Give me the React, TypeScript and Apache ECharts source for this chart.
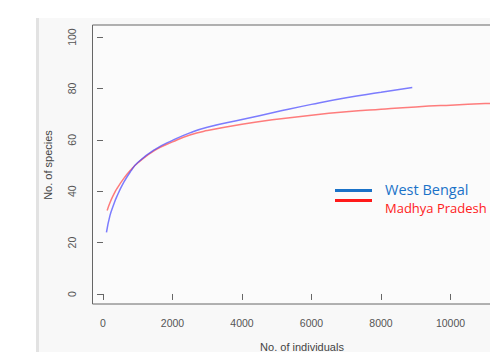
import React, { useEffect, useRef } from "react";
import * as echarts from "echarts";

const xTicks = [0, 2000, 4000, 6000, 8000, 10000];
const yTicks = [0, 20, 40, 60, 80, 100];

const westBengalX = [100, 200, 300, 400, 600, 800, 1000, 1500, 2000, 2500, 3000, 4000, 5000, 6000, 7000, 8000, 8900];
const westBengalY = [24, 30.5, 34.5, 38, 43.5, 47.8, 51.2, 56.3, 59.8, 62.7, 64.9, 67.9, 70.9, 73.8, 76.4, 78.5, 80.4];

const madhyaX = [120, 200, 300, 400, 600, 800, 1000, 1500, 2000, 2500, 3000, 4000, 5000, 6000, 7000, 8000, 9000, 10000, 11000, 12000];
const madhyaY = [32.5, 35.5, 38.5, 41, 45, 48.3, 51, 56, 59.2, 61.9, 63.6, 66.1, 68, 69.6, 70.9, 71.9, 72.8, 73.5, 74.1, 74.7];

const seriesNames = ["West Bengal", "Madhya Pradesh"];
const xName = "No. of individuals";
const yName = "No. of species";

export default function App() {
  const ref = useRef<HTMLDivElement>(null);
  useEffect(() => {
    if (!ref.current) return;
    const chart = echarts.init(ref.current, null, { renderer: "svg" });
    const pair = (xs: number[], ys: number[]) => xs.map((x, i) => [x, ys[i]]);
    chart.setOption({
      animation: false,
      backgroundColor: "#ffffff",
      grid: {
        show: true,
        left: 92.5,
        top: 25,
        width: 427.5,
        height: 279,
        borderColor: "#666",
        borderWidth: 1,
        backgroundColor: "#fbfbfb",
        containLabel: false,
        outerBoundsMode: "none",
      },
      xAxis: {
        type: "value",
        min: -302,
        max: 12000,
        splitLine: { show: false },
        axisLine: { show: false },
        axisTick: { show: true, inside: false, length: 6, customValues: xTicks, lineStyle: { color: "#666" } },
        axisLabel: {
          customValues: xTicks,
          formatter: (v: number) => String(v),
          margin: 13,
          fontFamily: "Liberation Sans, Arial, sans-serif",
          fontSize: 10.5,
          color: "#555",
        },
      },
      yAxis: {
        type: "value",
        min: -3.9,
        max: 104.7,
        splitLine: { show: false },
        axisLine: { show: false },
        axisTick: { show: true, inside: false, length: 6, customValues: yTicks, lineStyle: { color: "#666" } },
        axisLabel: {
          customValues: yTicks,
          formatter: (v: number) => String(v),
          rotate: 90,
          margin: 15,
          fontFamily: "Liberation Sans, Arial, sans-serif",
          fontSize: 10.5,
          color: "#555",
        },
      },
      series: [
        {
          name: seriesNames[0],
          type: "line",
          data: pair(westBengalX, westBengalY),
          smooth: true,
          showSymbol: false,
          lineStyle: { color: "rgba(70,70,255,0.7)", width: 1.5 },
          z: 3,
        },
        {
          name: seriesNames[1],
          type: "line",
          data: pair(madhyaX, madhyaY),
          smooth: true,
          showSymbol: false,
          lineStyle: { color: "rgba(255,70,70,0.7)", width: 1.5 },
          z: 2,
        },
      ],
      graphic: [
        {
          type: "rect",
          z: -10,
          silent: true,
          shape: { x: 37, y: 18, width: 470, height: 340 },
          style: { fill: "#f8f8f8" },
        },
        {
          type: "rect",
          z: -9,
          silent: true,
          shape: { x: 36, y: 18, width: 3, height: 340 },
          style: { fill: "#e2e2e2" },
        },
        {
          type: "text",
          x: 47.5,
          y: 165,
          rotation: Math.PI / 2,
          style: {
            text: yName,
            fontFamily: "Liberation Sans, Arial, sans-serif",
            fontSize: 11,
            fill: "#444",
            align: "center",
            verticalAlign: "middle",
          },
        },
        {
          type: "text",
          x: 302,
          y: 347,
          style: {
            text: xName,
            fontFamily: "Liberation Sans, Arial, sans-serif",
            fontSize: 11,
            fill: "#444",
            align: "center",
            verticalAlign: "middle",
          },
        },
        {
          type: "line",
          shape: { x1: 335, y1: 190.5, x2: 372, y2: 190.5 },
          style: { stroke: "#1a72c8", lineWidth: 3 },
        },
        {
          type: "line",
          shape: { x1: 335, y1: 200.5, x2: 372, y2: 200.5 },
          style: { stroke: "#ff1a1a", lineWidth: 3 },
        },
        {
          type: "text",
          x: 385,
          y: 189.5,
          style: {
            text: seriesNames[0],
            fontFamily: "Open Sans, sans-serif",
            fontSize: 14.5,
            lineHeight: 12,
            fill: "#1a72c8",
            align: "left",
            verticalAlign: "middle",
          },
        },
        {
          type: "text",
          x: 385,
          y: 208,
          style: {
            text: seriesNames[1],
            fontFamily: "Open Sans, sans-serif",
            fontSize: 13,
            lineHeight: 11,
            fill: "#ff1a1a",
            align: "left",
            verticalAlign: "middle",
          },
        },
      ],
    });
    return () => chart.dispose();
  }, []);
  return (
    <div
      ref={ref}
      style={{ position: "fixed", left: 0, top: 0, width: 490, height: 352, overflow: "hidden" }}
    />
  );
}
